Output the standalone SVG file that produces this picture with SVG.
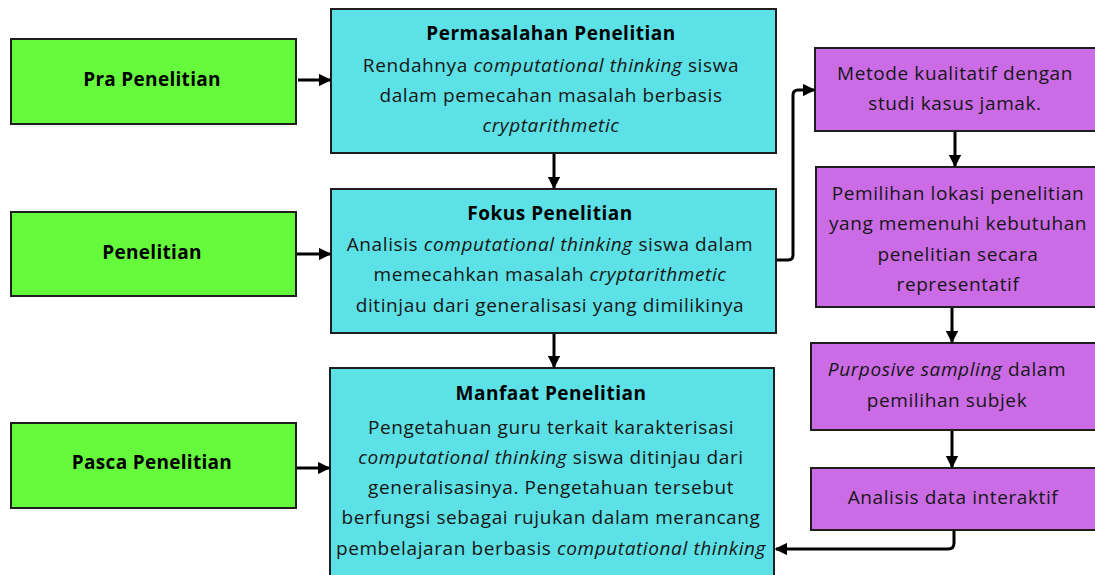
<svg xmlns="http://www.w3.org/2000/svg" width="1095" height="575" viewBox="0 0 1095 575">
  <defs>
    <marker id="arrow" viewBox="0 0 10 10" refX="9" refY="5" markerWidth="4.2" markerHeight="4.2" orient="auto" markerUnits="strokeWidth">
      <path d="M0,0 L10,5 L0,10 z" fill="#000"/>
    </marker>
    <style>
      .box { stroke: #1e1e1e; stroke-width: 2; }
      .green { fill: #66fa3c; }
      .cyan { fill: #5ce1e6; }
      .purple { fill: #cb6ce6; }
      text { font-family: "Open Sans", "Liberation Sans", sans-serif; fill: #161616; text-anchor: middle; }
      .label { font-size: 19px; font-weight: bold; fill: #000; letter-spacing: 0.3px; }
      .title { font-size: 19px; font-weight: bold; fill: #000; letter-spacing: 0.5px; }
      .body { font-size: 19px; letter-spacing: 0.6px; }
      .it { font-style: italic; }
      .conn { fill: none; stroke: #000; stroke-width: 3; stroke-linejoin: round; }
    </style>
  </defs>

  <rect width="1095" height="575" fill="#ffffff"/>

  <!-- stage boxes on the left -->
  <g id="pra-penelitian">
    <rect class="box green" x="11" y="39" width="285" height="85"/>
    <text class="label" x="152" y="86">Pra Penelitian</text>
  </g>
  <g id="penelitian">
    <rect class="box green" x="11" y="212" width="285" height="84"/>
    <text class="label" x="152" y="259">Penelitian</text>
  </g>
  <g id="pasca-penelitian">
    <rect class="box green" x="11" y="423" width="285" height="85"/>
    <text class="label" x="152" y="469">Pasca Penelitian</text>
  </g>

  <!-- central column -->
  <g id="permasalahan">
    <rect class="box cyan" x="331" y="9" width="445" height="144"/>
    <text class="title" x="551" y="40">Permasalahan Penelitian</text>
    <text class="body" x="551" y="72">Rendahnya <tspan class="it">computational thinking</tspan> siswa</text>
    <text class="body" x="551" y="102">dalam pemecahan masalah berbasis</text>
    <text class="body it" x="551" y="132">cryptarithmetic</text>
  </g>
  <g id="fokus">
    <rect class="box cyan" x="331" y="189" width="445" height="144"/>
    <text class="title" x="550" y="220">Fokus Penelitian</text>
    <text class="body" x="550" y="251">Analisis <tspan class="it">computational thinking</tspan> siswa dalam</text>
    <text class="body" x="550" y="281">memecahkan masalah <tspan class="it">cryptarithmetic</tspan></text>
    <text class="body" x="550" y="312">ditinjau dari generalisasi yang dimilikinya</text>
  </g>
  <g id="manfaat">
    <rect class="box cyan" x="330" y="368" width="444" height="220"/>
    <text class="title" x="551" y="400">Manfaat Penelitian</text>
    <text class="body" x="551" y="434">Pengetahuan guru terkait karakterisasi</text>
    <text class="body" x="551" y="464"><tspan class="it">computational thinking</tspan> siswa ditinjau dari</text>
    <text class="body" x="551" y="494">generalisasinya. Pengetahuan tersebut</text>
    <text class="body" x="551" y="524">berfungsi sebagai rujukan dalam merancang</text>
    <text class="body" x="551" y="555">pembelajaran berbasis <tspan class="it">computational thinking</tspan></text>
  </g>

  <!-- method column on the right -->
  <g id="metode">
    <rect class="box purple" x="815" y="48" width="290" height="83"/>
    <text class="body" x="955" y="80">Metode kualitatif dengan</text>
    <text class="body" x="955" y="110">studi kasus jamak.</text>
  </g>
  <g id="lokasi">
    <rect class="box purple" x="816" y="167" width="289" height="140"/>
    <text class="body" x="958" y="200">Pemilihan lokasi penelitian</text>
    <text class="body" x="958" y="230">yang memenuhi kebutuhan</text>
    <text class="body" x="958" y="261">penelitian secara</text>
    <text class="body" x="958" y="291">representatif</text>
  </g>
  <g id="sampling">
    <rect class="box purple" x="811" y="343" width="294" height="87"/>
    <text class="body" x="947" y="376"><tspan class="it">Purposive sampling</tspan> dalam</text>
    <text class="body" x="947" y="407">pemilihan subjek</text>
  </g>
  <g id="analisis">
    <rect class="box purple" x="811" y="468" width="294" height="62"/>
    <text class="body" x="953" y="504">Analisis data interaktif</text>
  </g>

  <!-- connectors -->
  <g id="connectors">
    <path class="conn" d="M298,80 H330" marker-end="url(#arrow)"/>
    <path class="conn" d="M297,254 H330" marker-end="url(#arrow)"/>
    <path class="conn" d="M297,468 H329" marker-end="url(#arrow)"/>
    <path class="conn" d="M554,154 V188" marker-end="url(#arrow)"/>
    <path class="conn" d="M554,334 V367" marker-end="url(#arrow)"/>
    <path class="conn" d="M777,260 H788 Q793,260 793,255 V95 Q793,90 798,90 H814" marker-end="url(#arrow)"/>
    <path class="conn" d="M955,132 V166" marker-end="url(#arrow)"/>
    <path class="conn" d="M952,308 V342" marker-end="url(#arrow)"/>
    <path class="conn" d="M952,431 V467" marker-end="url(#arrow)"/>
    <path class="conn" d="M954,531 V543 Q954,549 948,549 H776" marker-end="url(#arrow)"/>
  </g>
</svg>
